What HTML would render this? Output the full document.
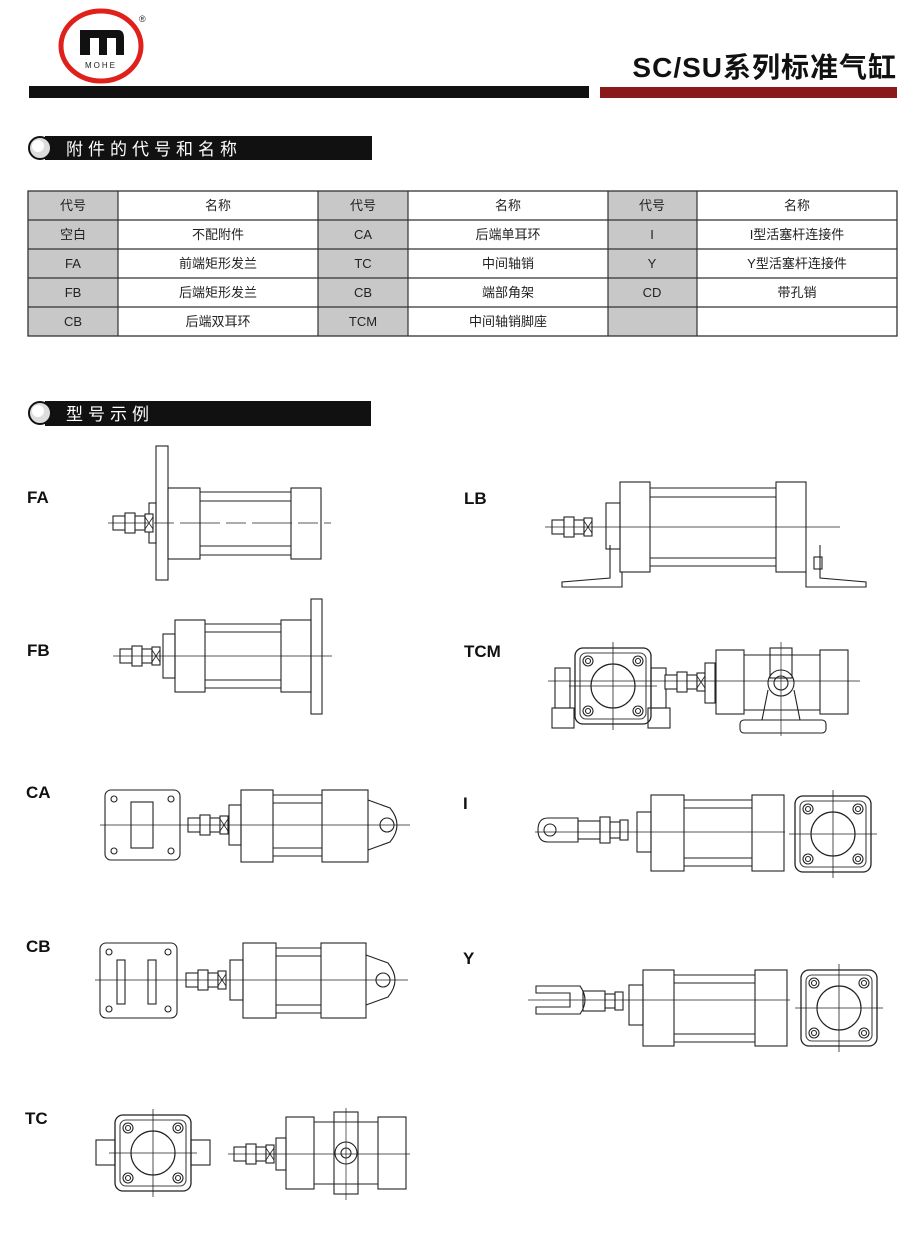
<!DOCTYPE html>
<html><head><meta charset="utf-8"><style>
html,body{margin:0;padding:0;background:#fff;}
body{width:920px;height:1239px;overflow:hidden;font-family:"Liberation Sans","Noto Sans CJK SC",sans-serif;}
svg text{font-family:"Liberation Sans","Noto Sans CJK SC",sans-serif;}
</style></head><body>
<svg width="920" height="1239" viewBox="0 0 920 1239" xmlns="http://www.w3.org/2000/svg">
<defs>
<g id="sq">
 <rect x="0" y="0" width="76" height="76" rx="8" fill="none" stroke="#222" stroke-width="1.3"/>
 <rect x="5" y="5" width="66" height="66" rx="6" fill="none" stroke="#444"/>
 <circle cx="38" cy="38" r="22" fill="none" stroke="#222" stroke-width="1.2"/>
 <circle cx="13" cy="13" r="5" fill="none" stroke="#222"/><circle cx="13" cy="13" r="2.5" fill="none" stroke="#222"/>
 <circle cx="63" cy="13" r="5" fill="none" stroke="#222"/><circle cx="63" cy="13" r="2.5" fill="none" stroke="#222"/>
 <circle cx="13" cy="63" r="5" fill="none" stroke="#222"/><circle cx="13" cy="63" r="2.5" fill="none" stroke="#222"/>
 <circle cx="63" cy="63" r="5" fill="none" stroke="#222"/><circle cx="63" cy="63" r="2.5" fill="none" stroke="#222"/>
 <line x1="-6" y1="38" x2="82" y2="38" stroke="#222" stroke-width="0.8"/>
 <line x1="38" y1="-6" x2="38" y2="82" stroke="#222" stroke-width="0.8"/>
</g>
<g id="rod">
 <rect x="0" y="-7" width="12" height="14" fill="#fff" stroke="#222"/>
 <rect x="12" y="-10" width="10" height="20" fill="#fff" stroke="#222"/>
 <rect x="22" y="-7" width="10" height="14" fill="#fff" stroke="#222"/>
 <rect x="32" y="-9" width="8" height="18" fill="#fff" stroke="#222"/>
 <path d="M32 -6 L40 6 M32 6 L40 -6" stroke="#222" stroke-width="0.8"/>
</g>
</defs>

<!-- header logo -->
<ellipse cx="101" cy="46" rx="40" ry="35" fill="none" stroke="#e0201a" stroke-width="5"/>
<path d="M80 55 V30 H118 Q124 30 124 38 V55 H116 V38 H107 V55 H99 V38 H90 V55 Z" fill="#111"/>
<text x="101" y="68" font-size="8" text-anchor="middle" fill="#222" font-family="Liberation Serif" letter-spacing="2">MOHE</text>
<text x="139" y="22" font-size="9" fill="#222">®</text>
<text x="897" y="77" font-size="28" font-weight="bold" text-anchor="end" fill="#111" letter-spacing="1">SC/SU系列标准气缸</text>
<rect x="29" y="86" width="560" height="12" fill="#111"/>
<rect x="600" y="87" width="297" height="11" fill="#8a1a1a"/>

<!-- section 1 -->
<rect x="45" y="136" width="327" height="24" fill="#111"/>
<circle cx="40" cy="148" r="11" fill="#ddd" stroke="#111" stroke-width="2"/>
<circle cx="38" cy="146" r="6" fill="#fff"/>
<text x="66" y="155" font-size="17" fill="#fff" letter-spacing="5">附件的代号和名称</text>

<!-- table -->
<g font-size="13" fill="#222" text-anchor="middle">
<rect x="28" y="191" width="90" height="145" fill="#c8c8c8"/>
<rect x="318" y="191" width="90" height="145" fill="#c8c8c8"/>
<rect x="608" y="191" width="89" height="145" fill="#c8c8c8"/>
<rect x="28" y="191" width="869" height="145" fill="none" stroke="#333" stroke-width="1.3"/>
<path d="M28 220H897M28 249H897M28 278H897M28 307H897M118 191V336M318 191V336M408 191V336M608 191V336M697 191V336" stroke="#333" stroke-width="1.2"/>
<text x="73" y="210">代号</text><text x="218" y="210">名称</text><text x="363" y="210">代号</text><text x="508" y="210">名称</text><text x="652" y="210">代号</text><text x="797" y="210">名称</text>
<text x="73" y="239">空白</text><text x="218" y="239">不配附件</text><text x="363" y="239">CA</text><text x="508" y="239">后端单耳环</text><text x="652" y="239">I</text><text x="797" y="239">I型活塞杆连接件</text>
<text x="73" y="268">FA</text><text x="218" y="268">前端矩形发兰</text><text x="363" y="268">TC</text><text x="508" y="268">中间轴销</text><text x="652" y="268">Y</text><text x="797" y="268">Y型活塞杆连接件</text>
<text x="73" y="297">FB</text><text x="218" y="297">后端矩形发兰</text><text x="363" y="297">CB</text><text x="508" y="297">端部角架</text><text x="652" y="297">CD</text><text x="797" y="297">带孔销</text>
<text x="73" y="326">CB</text><text x="218" y="326">后端双耳环</text><text x="363" y="326">TCM</text><text x="508" y="326">中间轴销脚座</text>
</g>

<!-- section 2 -->
<rect x="45" y="401" width="326" height="25" fill="#111"/>
<circle cx="40" cy="413" r="11" fill="#ddd" stroke="#111" stroke-width="2"/>
<circle cx="38" cy="411" r="6" fill="#fff"/>
<text x="66" y="420" font-size="17" fill="#fff" letter-spacing="5">型号示例</text>

<g font-size="17" font-weight="bold" fill="#111">
<text x="27" y="503">FA</text><text x="27" y="656">FB</text><text x="26" y="798">CA</text><text x="26" y="952">CB</text><text x="25" y="1124">TC</text>
<text x="464" y="504">LB</text><text x="464" y="657">TCM</text><text x="463" y="809">I</text><text x="463" y="964">Y</text>
</g>

<g fill="none" stroke="#222" stroke-width="1.1">
<!-- FA -->
<rect x="156" y="446" width="12" height="134"/>
<rect x="149" y="503" width="7" height="40"/>
<rect x="168" y="488" width="32" height="71"/>
<path d="M200 492H291M200 501H291M200 546H291M200 555H291"/>
<rect x="291" y="488" width="30" height="71"/>
<use href="#rod" x="113" y="523"/>
<path d="M108 523H331" stroke-width="0.7" stroke-dasharray="40 6 20 6"/>
<!-- FB -->
<rect x="175" y="620" width="30" height="72"/>
<rect x="163" y="634" width="12" height="44"/>
<path d="M205 624H281M205 632H281M205 680H281M205 688H281"/>
<rect x="281" y="620" width="30" height="72"/>
<rect x="311" y="599" width="11" height="115"/>
<use href="#rod" x="120" y="656"/>
<path d="M113 656H332" stroke-width="0.7"/>
<!-- LB -->
<rect x="620" y="482" width="30" height="90"/>
<rect x="606" y="503" width="14" height="46"/>
<path d="M650 488H776M650 497H776M650 558H776M650 566H776"/>
<rect x="776" y="482" width="30" height="90"/>
<path d="M610 545V578L562 582V587H622V572"/>
<path d="M806 572V587H866V582L820 578V545"/>
<rect x="814" y="557" width="8" height="12"/>
<use href="#rod" x="552" y="527"/>
<path d="M545 527H840" stroke-width="0.7"/>
<!-- TCM -->
<use href="#sq" x="575" y="648"/>
<rect x="555" y="668" width="15" height="40"/><rect x="552" y="708" width="22" height="20"/>
<rect x="651" y="668" width="15" height="40"/><rect x="648" y="708" width="22" height="20"/>
<use href="#rod" x="665" y="682"/>
<rect x="705" y="663" width="10" height="40"/>
<rect x="716" y="650" width="28" height="64"/>
<path d="M744 655H820M744 710H820"/>
<rect x="820" y="650" width="28" height="64"/>
<rect x="770" y="648" width="22" height="30"/>
<circle cx="781" cy="683" r="13"/><circle cx="781" cy="683" r="7"/>
<path d="M768 690L762 720H800L794 690"/>
<rect x="740" y="720" width="86" height="13" rx="4"/>
<path d="M548 681H860M781 642V736" stroke-width="0.7"/>
<!-- CA -->
<rect x="105" y="790" width="75" height="70" rx="6"/>
<circle cx="114" cy="799" r="3"/><circle cx="171" cy="799" r="3"/><circle cx="114" cy="851" r="3"/><circle cx="171" cy="851" r="3"/>
<rect x="131" y="802" width="22" height="46"/>
<use href="#rod" x="188" y="825"/>
<rect x="229" y="805" width="12" height="40"/>
<rect x="241" y="790" width="32" height="72"/>
<path d="M273 795H322M273 803H322M273 848H322M273 856H322"/>
<rect x="322" y="790" width="46" height="72"/>
<path d="M368 800L390 808Q404 825 390 842L368 850"/>
<circle cx="387" cy="825" r="7"/>
<path d="M100 825H410" stroke-width="0.7"/>
<!-- CB -->
<rect x="100" y="943" width="77" height="75" rx="6"/>
<circle cx="109" cy="952" r="3"/><circle cx="168" cy="952" r="3"/><circle cx="109" cy="1009" r="3"/><circle cx="168" cy="1009" r="3"/>
<rect x="117" y="960" width="8" height="44"/><rect x="148" y="960" width="8" height="44"/>
<use href="#rod" x="186" y="980"/>
<rect x="230" y="960" width="13" height="40"/>
<rect x="243" y="943" width="33" height="75"/>
<path d="M276 948H321M276 956H321M276 1005H321M276 1013H321"/>
<rect x="321" y="943" width="45" height="75"/>
<path d="M366 955L388 963Q402 980 388 997L366 1005"/>
<circle cx="383" cy="980" r="7"/>
<path d="M95 980H408" stroke-width="0.7"/>
<!-- I -->
<path d="M578 818H548Q538 818 538 830Q538 842 548 842H578Z"/>
<circle cx="550" cy="830" r="6"/>
<rect x="578" y="821" width="22" height="18"/>
<rect x="600" y="817" width="10" height="26"/>
<rect x="610" y="822" width="10" height="16"/><rect x="620" y="820" width="8" height="20"/>
<rect x="637" y="812" width="14" height="40"/>
<rect x="651" y="795" width="33" height="76"/>
<path d="M684 800H752M684 808H752M684 858H752M684 866H752"/>
<rect x="752" y="795" width="32" height="76"/>
<use href="#sq" x="795" y="796"/>
<path d="M535 832H785" stroke-width="0.7"/>
<!-- Y -->
<path d="M536 986H580Q590 1000 580 1014H536V1007H570V993H536Z"/>
<rect x="583" y="991" width="22" height="20"/><rect x="605" y="994" width="10" height="14"/><rect x="615" y="992" width="8" height="18"/>
<rect x="629" y="985" width="14" height="40"/>
<rect x="643" y="970" width="31" height="76"/>
<path d="M674 975H755M674 983H755M674 1034H755M674 1042H755"/>
<rect x="755" y="970" width="32" height="76"/>
<use href="#sq" x="801" y="970"/>
<path d="M528 1000H790" stroke-width="0.7"/>
<!-- TC -->
<use href="#sq" x="115" y="1115"/>
<rect x="96" y="1140" width="19" height="25"/><rect x="191" y="1140" width="19" height="25"/>
<use href="#rod" x="234" y="1154"/>
<rect x="276" y="1138" width="10" height="32"/>
<rect x="286" y="1117" width="28" height="72"/>
<path d="M314 1122H378M314 1184H378"/>
<rect x="334" y="1112" width="24" height="82"/>
<circle cx="346" cy="1153" r="11"/><circle cx="346" cy="1153" r="5"/>
<rect x="378" y="1117" width="28" height="72"/>
<path d="M228 1154H410M346 1108V1200" stroke-width="0.7"/>
</g>
</svg>
</body></html>
